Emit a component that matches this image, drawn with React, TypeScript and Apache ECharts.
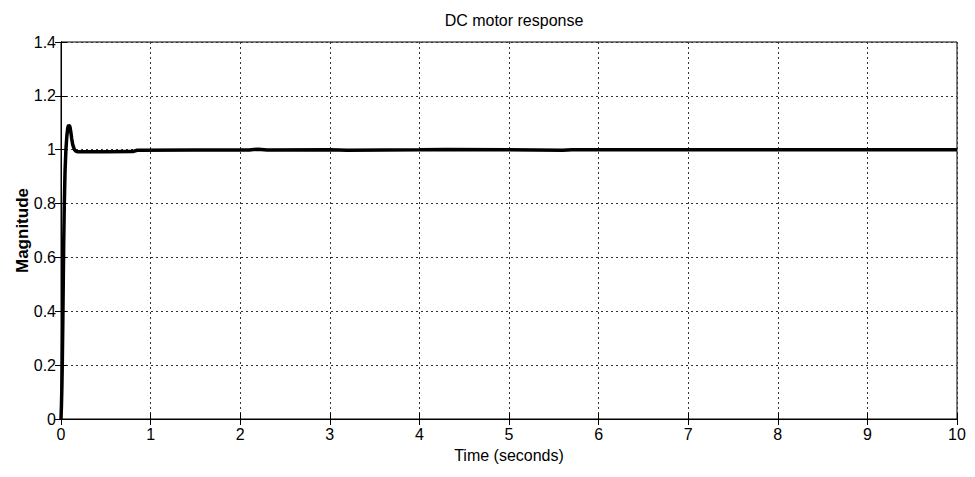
import React, { useEffect, useRef } from "react";
import * as echarts from "echarts";

const timeValues = [0, 0.005, 0.01, 0.015, 0.02, 0.025, 0.03, 0.037, 0.045, 0.055, 0.065, 0.075, 0.085, 0.092, 0.1, 0.11, 0.12, 0.13, 0.15, 0.17, 0.19, 0.3, 0.5, 0.8, 0.85, 1.5, 2.1, 2.2, 2.3, 3, 3.2, 4, 4.3, 5, 5.6, 5.7, 6, 7, 8, 9, 10];
const magnitudeValues = [0, 0.05, 0.12, 0.22, 0.35, 0.5, 0.65, 0.8, 0.92, 1.0, 1.05, 1.08, 1.092, 1.093, 1.085, 1.065, 1.04, 1.02, 1.0, 0.994, 0.992, 0.992, 0.992, 0.993, 0.998, 0.999, 0.999, 1.002, 0.999, 1.0, 0.998, 1.0, 1.001, 1.0, 0.998, 1.0, 1.0, 1.0, 1.0, 1.0, 1.0];

const xTicks = { min: 0, max: 10, interval: 1 };
const yTicks = { min: 0, max: 1.4, interval: 0.2 };

export default function App() {
  const ref = useRef<HTMLDivElement>(null);
  useEffect(() => {
    if (!ref.current) return;
    const chart = echarts.init(ref.current, null, { renderer: "svg" });
    const font = "Liberation Sans, Arial, sans-serif";
    const gridLine = { show: true, lineStyle: { color: "#333", type: [2, 3] as any, width: 1 } };
    const data = timeValues.map((t, i) => [t, magnitudeValues[i]]);
    chart.setOption({
      animation: false,
      backgroundColor: "#fff",
      title: {
        text: "DC motor response",
        left: 509,
        textAlign: "center",
        top: 7,
        textStyle: { fontFamily: font, fontSize: 16, fontWeight: "normal", color: "#000" },
      },
      grid: {
        left: 61, right: 18, top: 42, bottom: 58,
        containLabel: false,
        outerBoundsMode: "none",
        show: true, borderColor: "#000", borderWidth: 1, backgroundColor: "#fff",
      } as any,
      xAxis: [
        {
          type: "value",
          ...xTicks,
          name: "Time (seconds)",
          nameLocation: "middle",
          nameGap: 28,
          nameMoveOverlap: false,
          nameTextStyle: { fontFamily: font, fontSize: 16, color: "#000" },
          axisLine: { show: true, lineStyle: { color: "#000" } },
          axisTick: { show: true, inside: true, length: 6, lineStyle: { color: "#000" } },
          axisLabel: { fontFamily: font, fontSize: 16, color: "#000", margin: 7 },
          splitLine: gridLine,
        },
        {
          type: "value",
          position: "top",
          ...xTicks,
          axisLine: { show: true, lineStyle: { color: "#000" } },
          axisTick: { show: true, inside: true, length: 6, lineStyle: { color: "#000" } },
          axisLabel: { show: false },
          splitLine: { show: false },
        },
      ],
      yAxis: [
        {
          type: "value",
          ...yTicks,
          name: "Magnitude",
          nameLocation: "middle",
          nameGap: 30,
          nameMoveOverlap: false,
          nameTextStyle: { fontFamily: font, fontSize: 17, fontWeight: "bold", color: "#000" },
          axisLine: { show: true, lineStyle: { color: "#000" } },
          axisTick: { show: true, inside: true, length: 6, lineStyle: { color: "#000" } },
          axisLabel: {
            fontFamily: font,
            fontSize: 16,
            color: "#000",
            margin: 5,
            formatter: (v: number) => String(Math.round(v * 10) / 10),
          },
          splitLine: gridLine,
        },
        {
          type: "value",
          position: "right",
          ...yTicks,
          axisLine: { show: true, lineStyle: { color: "#000" } },
          axisTick: { show: true, inside: true, length: 6, lineStyle: { color: "#000" } },
          axisLabel: { show: false },
          splitLine: { show: false },
        },
      ],
      series: [
        {
          type: "line",
          data,
          xAxisIndex: 0,
          yAxisIndex: 0,
          showSymbol: false,
          symbol: "none",
          lineStyle: { color: "#000", width: 3.5 },
          smooth: false,
        },
      ],
    } as any);
    return () => chart.dispose();
  }, []);
  return <div ref={ref} style={{ width: 975, height: 477, position: "absolute", left: 0, top: 0 }} />;
}
